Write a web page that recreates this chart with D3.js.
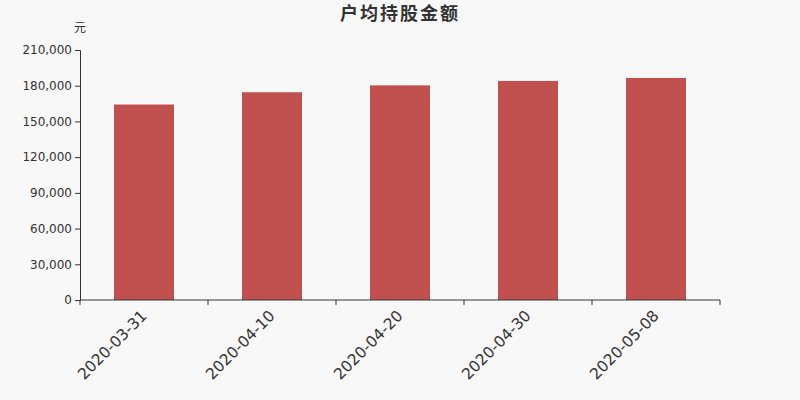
<!DOCTYPE html>
<html lang="zh">
<head>
  <meta charset="UTF-8">
  <title>户均持股金额</title>
  <script src="https://d3js.org/d3.v7.min.js"></script>
  <style>
    body {
      margin: 0;
      background: #f8f8f8;
    }
    svg text {
      font-family: "DejaVu Sans", "Noto Sans CJK SC", sans-serif;
    }
  </style>
</head>
<body>
  <svg id="chart"></svg>
  <script>
    // Data
    const dates = ["2020-03-31", "2020-04-10", "2020-04-20", "2020-04-30", "2020-05-08"];
    const amounts = [164200, 174500, 180300, 184000, 186500];
    const yTicks = [0, 30000, 60000, 90000, 120000, 150000, 180000, 210000];

    const W = 800, H = 400;
    const margin = {top: 50, right: 80, bottom: 100, left: 80};
    const width = W - margin.left - margin.right;
    const height = H - margin.top - margin.bottom;

    const svg = d3.select("#chart")
      .attr("width", W)
      .attr("height", H);

    svg.append("rect")
      .attr("width", W)
      .attr("height", H)
      .attr("fill", "#f8f8f8");

    const g = svg.append("g")
      .attr("transform", `translate(${margin.left},${margin.top})`);

    const x = d3.scaleBand()
      .domain(dates)
      .range([0, width])
      .paddingInner(68 / 128)
      .paddingOuter(34 / 128);

    const y = d3.scaleLinear()
      .domain([0, 210000])
      .range([height, 0]);

    // Bars
    g.selectAll(".bar")
      .data(dates)
      .enter()
      .append("rect")
      .attr("class", "bar")
      .attr("x", d => x(d))
      .attr("width", x.bandwidth())
      .attr("y", (d, i) => y(amounts[i]))
      .attr("height", (d, i) => height - y(amounts[i]))
      .attr("fill", "#c0504e");

    // Y axis
    const yAxis = g.append("g")
      .call(d3.axisLeft(y)
        .tickValues(yTicks)
        .tickFormat(d3.format(","))
        .tickSize(5)
        .tickPadding(3));
    yAxis.attr("font-family", null).attr("font-size", null);
    yAxis.selectAll("text").attr("fill", "#333").style("font-size", "12px");
    yAxis.selectAll("line, path").attr("stroke", "#333");

    // X axis: ticks at band boundaries
    const step = width / dates.length;
    const bounds = d3.range(dates.length + 1).map(i => i * step);
    const xAxis = g.append("g")
      .attr("transform", `translate(0,${height})`);
    xAxis.append("line")
      .attr("x1", 0).attr("x2", width)
      .attr("stroke", "#333");
    xAxis.selectAll(".bt")
      .data(bounds)
      .enter()
      .append("line")
      .attr("x1", d => d).attr("x2", d => d)
      .attr("y1", 0).attr("y2", 5)
      .attr("stroke", "#333");
    xAxis.selectAll(".xl")
      .data(dates)
      .enter()
      .append("text")
      .attr("transform", d => `translate(${x(d) + x.bandwidth() / 2},13) rotate(-45)`)
      .attr("text-anchor", "end")
      .attr("dy", "0.35em")
      .attr("fill", "#333")
      .style("font-size", "15.5px")
      .text(d => d);

    // Unit label
    svg.append("text")
      .attr("x", 80)
      .attr("y", 32)
      .attr("text-anchor", "middle")
      .attr("fill", "#333")
      .style("font-size", "12px")
      .text("元");

    // Title
    svg.append("text")
      .attr("x", W / 2)
      .attr("y", 20)
      .attr("text-anchor", "middle")
      .attr("fill", "#333")
      .style("font-size", "18px")
      .style("font-weight", "bold")
      .style("letter-spacing", "2px")
      .text("户均持股金额");
  </script>
</body>
</html>
